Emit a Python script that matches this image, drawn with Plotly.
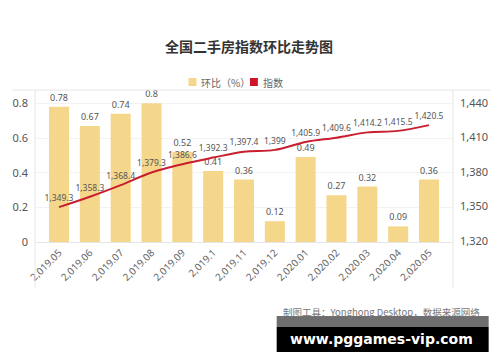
import plotly.graph_objects as go

categories = ["2,019.05", "2,019.06", "2,019.07", "2,019.08", "2,019.09", "2,019.1",
              "2,019.11", "2,019.12", "2,020.01", "2,020.02", "2,020.03", "2,020.04", "2,020.05"]
mom_pct = [0.78, 0.67, 0.74, 0.8, 0.52, 0.41, 0.36, 0.12, 0.49, 0.27, 0.32, 0.09, 0.36]
index_vals = [1349.3, 1358.3, 1368.4, 1379.3, 1386.6, 1392.3, 1397.4, 1399, 1405.9,
              1409.6, 1414.2, 1415.5, 1420.5]
left_ticks = [0, 0.2, 0.4, 0.6, 0.8]
right_ticks = [1320, 1350, 1380, 1410, 1440]

W, H = 500, 362
L, R, T, B = 33, 455, 90, 242  # plot area in pixels

def px(x):
    return (x - L) / (R - L)

def py(y):
    return (B - y) / (B - T)

BAR = "#F5D78B"
RED = "#C81E2E"
FONT = "Noto Sans CJK SC, Noto Sans, sans-serif"
NUMFONT = "Noto Sans, sans-serif"

def fmt_index(v):
    if v == int(v):
        return f"{int(v):,}"
    return f"{v:,.1f}"

fig = go.Figure()
fig.add_trace(go.Bar(
    x=categories, y=mom_pct, name="环比（%）",
    marker=dict(color=BAR, line=dict(width=0)),
    text=[f"{v:g}" for v in mom_pct], textposition="outside",
    textfont=dict(size=9, color="#555555", family=NUMFONT), cliponaxis=False,
    showlegend=False,
))
fig.add_trace(go.Scatter(
    x=categories, y=index_vals, name="指数", yaxis="y2",
    mode="lines+markers+text", line=dict(color=RED, width=2, shape="spline"),
    marker=dict(size=5, color="rgba(0,0,0,0)"),
    text=[fmt_index(v) for v in index_vals],
    textposition="top center", textfont=dict(size=8.5, color="#555555", family=NUMFONT),
    cliponaxis=False, showlegend=False,
))

shapes = [
    dict(type="line", xref="paper", yref="paper", x0=px(10), x1=px(493), y0=py(90), y1=py(90),
         line=dict(color="#e6e6e6", width=1)),
    dict(type="line", xref="paper", yref="paper", x0=px(33), x1=px(33), y0=py(90), y1=py(288),
         line=dict(color="#e6e6e6", width=1)),
    dict(type="line", xref="paper", yref="paper", x0=px(455), x1=px(455), y0=py(90), y1=py(288),
         line=dict(color="#e6e6e6", width=1)),
    dict(type="rect", xref="paper", yref="paper", x0=px(188), x1=px(196), y0=py(86), y1=py(78),
         fillcolor=BAR, line=dict(width=0)),
    dict(type="rect", xref="paper", yref="paper", x0=px(250), x1=px(258), y0=py(86), y1=py(78),
         fillcolor="#D0142A", line=dict(width=0)),
    dict(type="rect", xref="paper", yref="paper", x0=px(277), x1=px(491), y0=py(327), y1=py(316),
         fillcolor="#6e6e6e", line=dict(width=0), layer="below"),
    dict(type="rect", xref="paper", yref="paper", x0=px(277), x1=px(491), y0=py(352), y1=py(327),
         fillcolor="#000000", line=dict(width=0)),
]

annotations = [
    dict(text="<b>全国二手房指数环比走势图</b>", xref="paper", yref="paper", x=px(249), y=py(46),
         showarrow=False, font=dict(size=14, color="#333333", family=FONT), xanchor="center", yanchor="middle"),
    dict(text="环比（%）", xref="paper", yref="paper", x=px(199), y=py(82), showarrow=False,
         font=dict(size=10, color="#666666", family=FONT), xanchor="left", yanchor="middle"),
    dict(text="指数", xref="paper", yref="paper", x=px(261), y=py(82), showarrow=False,
         font=dict(size=10, color="#666666", family=FONT), xanchor="left", yanchor="middle"),
    dict(text="制图工具：Yonghong Desktop，数据来源网络", xref="paper", yref="paper", x=px(383), y=py(312),
         showarrow=False, font=dict(size=9.5, color="#777777", family=FONT), xanchor="center", yanchor="middle"),
    dict(text="<b>www.pggames-vip.com</b>", xref="paper", yref="paper", x=px(383), y=py(339),
         showarrow=False, font=dict(size=14, color="#ffffff", family="DejaVu Sans, sans-serif"),
         xanchor="center", yanchor="middle"),
]

fig.update_layout(
    width=W, height=H,
    margin=dict(l=L, r=W - R, t=T, b=H - B, pad=0),
    paper_bgcolor="white", plot_bgcolor="white",
    barmode="overlay", bargap=0.35,
    font=dict(family=FONT, color="#555555"),
    xaxis=dict(type="category", tickangle=-45, tickfont=dict(size=10, color="#666666", family=NUMFONT),
               showgrid=False, showline=True, linecolor="#e6e6e6", ticks=""),
    yaxis=dict(range=[0, 0.877], tickvals=left_ticks, ticktext=[f"{v:g}" for v in left_ticks],
               tickfont=dict(size=11, color="#555555", family=NUMFONT), showgrid=True, gridcolor="#f2f2f2",
               zeroline=False, ticklabelstandoff=6),
    yaxis2=dict(range=[1319, 1451], overlaying="y", side="right", tickvals=right_ticks,
                tickformat=",", tickfont=dict(size=11, color="#555555", family=NUMFONT), showgrid=False,
                zeroline=False, ticklabelstandoff=6),
    shapes=shapes, annotations=annotations,
)

fig.write_html("out.html", config={"displayModeBar": False},
               post_script="document.body.style.margin='0';")
